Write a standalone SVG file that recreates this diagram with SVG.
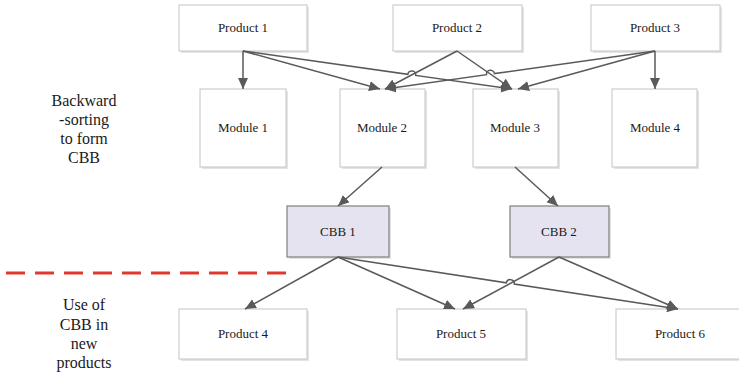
<svg xmlns="http://www.w3.org/2000/svg" width="739" height="375" viewBox="0 0 739 375">
<style>
.box{fill:#ffffff;stroke:#c4c4c4;stroke-width:1}
.cbb{fill:#e6e3f0;stroke:#7f7f7f;stroke-width:1.2}
.sh{fill:#e4e4e4}
text{font-family:"Liberation Serif","Times New Roman",Times,"DejaVu Serif",serif}
.lbl{font-size:13px;fill:#1a1a1a;text-anchor:middle}
.side{font-size:16px;fill:#1a1a1a;text-anchor:middle}
.con{fill:none;stroke:#5a5a5a;stroke-width:1.5;marker-end:url(#ah)}
</style>
<defs>
<marker id="ah" markerUnits="userSpaceOnUse" markerWidth="14" markerHeight="12" refX="11" refY="5" orient="auto">
<path d="M0,0 L11,5 L0,10 z" fill="#5a5a5a"/>
</marker>
</defs>
<rect width="739" height="375" fill="#ffffff"/>

<g id="side-labels">
<text class="side" x="84" y="106" font-family="Liberation Serif">Backward</text>
<text class="side" x="84" y="125" font-family="Liberation Serif">-sorting</text>
<text class="side" x="84" y="144" font-family="Liberation Serif">to form</text>
<text class="side" x="84" y="163" font-family="Liberation Serif">CBB</text>
<text class="side" x="84" y="310" font-family="Liberation Serif">Use of</text>
<text class="side" x="84" y="330" font-family="Liberation Serif">CBB in</text>
<text class="side" x="84" y="349" font-family="Liberation Serif">new</text>
<text class="side" x="84" y="368" font-family="Liberation Serif">products</text>
</g>

<line id="divider" x1="6" y1="273" x2="288" y2="273" stroke="#e0382e" stroke-width="3" stroke-dasharray="19,10"/>

<g id="product1"><rect class="sh" x="181" y="7" width="128" height="46"/><rect class="box" x="179" y="5" width="128" height="46"/><text class="lbl" x="243" y="32" font-family="Liberation Serif">Product 1</text></g>
<g id="product2"><rect class="sh" x="395" y="7" width="129" height="46"/><rect class="box" x="393" y="5" width="129" height="46"/><text class="lbl" x="457" y="32" font-family="Liberation Serif">Product 2</text></g>
<g id="product3"><rect class="sh" x="593" y="7" width="129" height="46"/><rect class="box" x="591" y="5" width="129" height="46"/><text class="lbl" x="655" y="32" font-family="Liberation Serif">Product 3</text></g>

<g id="module1"><rect class="sh" x="202" y="91" width="86" height="78"/><rect class="box" x="200" y="89" width="86" height="78"/><text class="lbl" x="243" y="132" font-family="Liberation Serif">Module 1</text></g>
<g id="module2"><rect class="sh" x="342" y="91" width="85" height="78"/><rect class="box" x="340" y="89" width="85" height="78"/><text class="lbl" x="382" y="132" font-family="Liberation Serif">Module 2</text></g>
<g id="module3"><rect class="sh" x="475" y="91" width="85" height="78"/><rect class="box" x="473" y="89" width="85" height="78"/><text class="lbl" x="515" y="132" font-family="Liberation Serif">Module 3</text></g>
<g id="module4"><rect class="sh" x="614" y="91" width="85" height="78"/><rect class="box" x="612" y="89" width="85" height="78"/><text class="lbl" x="655" y="132" font-family="Liberation Serif">Module 4</text></g>

<g id="cbb1"><rect class="sh" x="289" y="208" width="102" height="51"/><rect class="cbb" x="287" y="206" width="102" height="51"/><text class="lbl" x="338" y="236" font-family="Liberation Serif">CBB 1</text></g>
<g id="cbb2"><rect class="sh" x="512" y="208" width="99" height="51"/><rect class="cbb" x="510" y="206" width="99" height="51"/><text class="lbl" x="559" y="236" font-family="Liberation Serif">CBB 2</text></g>

<g id="product4"><rect class="sh" x="181" y="311" width="128" height="50"/><rect class="box" x="179" y="309" width="128" height="50"/><text class="lbl" x="243" y="338" font-family="Liberation Serif">Product 4</text></g>
<g id="product5"><rect class="sh" x="399" y="311" width="129" height="50"/><rect class="box" x="397" y="309" width="129" height="50"/><text class="lbl" x="461" y="338" font-family="Liberation Serif">Product 5</text></g>
<g id="product6"><rect class="sh" x="618" y="311" width="128" height="50"/><rect class="box" x="616" y="309" width="128" height="50"/><text class="lbl" x="680" y="338" font-family="Liberation Serif">Product 6</text></g>

<g id="connectors">
<path class="con" d="M243,51 L243,89"/>
<path class="con" d="M243,51 L380,89"/>
<path class="con" d="M243,51 L407.84,74.29 A4,4 0 0 1 415.76,75.41 L512,89"/>
<path class="con" d="M457,51 L385,89"/>
<path class="con" d="M457,51 L512,89"/>
<path class="con" d="M655,51 L494.46,73.59 A4,4 0 0 0 486.54,74.71 L385,89"/>
<path class="con" d="M655,51 L518,89"/>
<path class="con" d="M655,51 L655,89"/>
<path class="con" d="M382,167 L338,206"/>
<path class="con" d="M515,167 L558,206"/>
<path class="con" d="M338,257 L245,309"/>
<path class="con" d="M338,257 L455,309"/>
<path class="con" d="M338,257 L506.35,282.8 A4,4 0 0 1 514.25,284 L678,309"/>
<path class="con" d="M559,257 L463,309"/>
<path class="con" d="M559,257 L678,309"/>
</g>
</svg>
